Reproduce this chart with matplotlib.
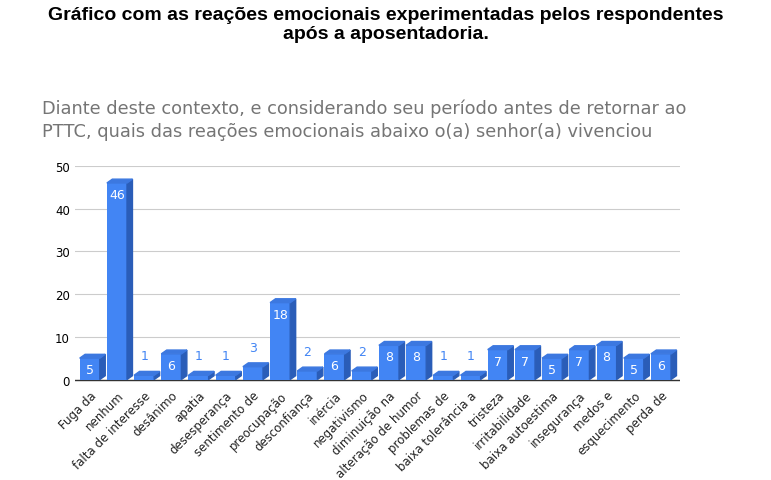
import matplotlib.pyplot as plt
from matplotlib.patches import Polygon

categories = ["Fuga da", "nenhum", "falta de interesse", "desânimo", "apatia",
              "desesperança", "sentimento de", "preocupação", "desconfiança",
              "inércia", "negativismo", "diminuição na", "alteração de humor",
              "problemas de", "baixa tolerância a", "tristeza", "irritabilidade",
              "baixa autoestima", "insegurança", "medos e", "esquecimento", "perda de"]
values = [5, 46, 1, 6, 1, 1, 3, 18, 2, 6, 2, 8, 8, 1, 1, 7, 7, 5, 7, 8, 5, 6]

fig = plt.figure(figsize=(7.71, 4.81), dpi=100)
ax = fig.add_axes([0.097, 0.2, 0.785, 0.453])

x = list(range(len(values)))
bars = ax.bar(x, values, width=0.74, color="#4285f4", zorder=3)
dx, dy = 0.2, 0.9
for b, v in zip(bars, values):
    x0, w = b.get_x(), b.get_width()
    side = Polygon([(x0 + w, 0), (x0 + w + dx, dy), (x0 + w + dx, v + dy), (x0 + w, v)],
                   closed=True, color="#2a5db8", zorder=3)
    top = Polygon([(x0, v), (x0 + dx, v + dy), (x0 + w + dx, v + dy), (x0 + w, v)],
                  closed=True, color="#3c78e0", zorder=3)
    ax.add_patch(side)
    ax.add_patch(top)
    if v >= 5:
        ax.text(b.get_x() + w / 2, v - 1.2, str(v), ha="center", va="top",
                color="white", fontsize=9, zorder=4)
    else:
        ax.text(b.get_x() + w / 2, v + 3, str(v), ha="center", va="bottom",
                color="#4285f4", fontsize=9, zorder=4)

ax.set_ylim(-1, 50)
ax.set_yticks([0, 10, 20, 30, 40, 50])
ax.set_xlim(-0.55, len(values) - 0.3)
ax.set_xticks(x)
ax.set_xticklabels(categories, rotation=45, ha="right", rotation_mode="anchor",
                   fontsize=8.5, color="#222222")
ax.tick_params(length=0, labelsize=8.5)
ax.grid(axis="y", color="#cccccc", linewidth=0.8, zorder=0)
for s in ax.spines.values():
    s.set_visible(False)
ax.axhline(0, color="#333333", linewidth=1, zorder=2)

fig.text(0.5, 0.985, "Gráfico com as reações emocionais experimentadas pelos respondentes\napós a aposentadoria.",
         ha="center", va="top", fontsize=14, fontweight="bold", family="Liberation Sans",
         linespacing=1.15)
fig.text(0.055, 0.75, "Diante deste contexto, e considerando seu período antes de retornar ao\nPTTC, quais das reações emocionais abaixo o(a) senhor(a) vivenciou",
         ha="left", va="center", fontsize=12.8, color="#757575", linespacing=1.3)

fig.savefig("out.png", dpi=100)
